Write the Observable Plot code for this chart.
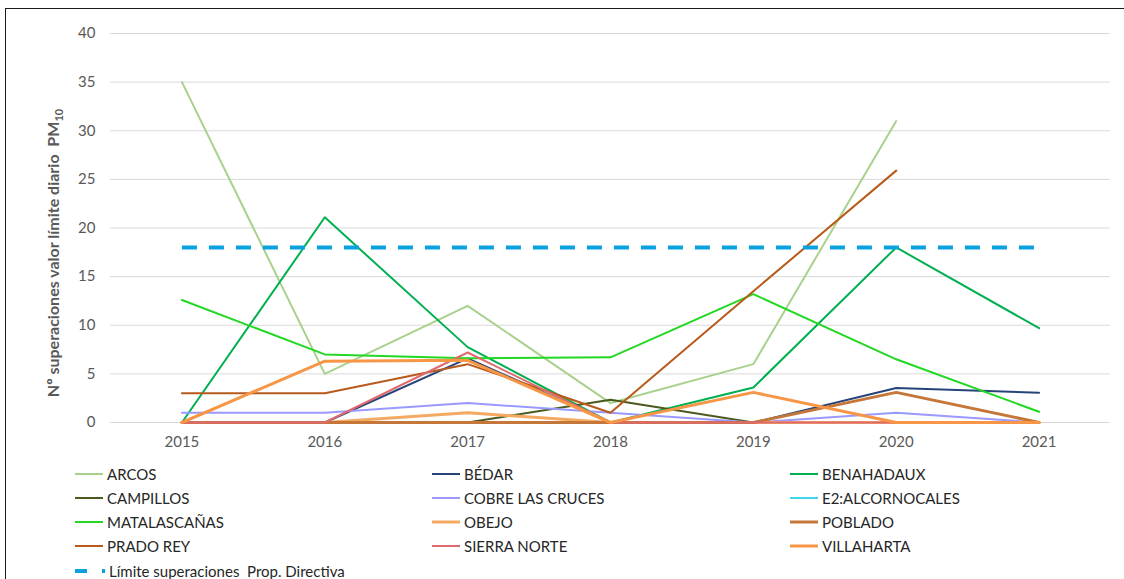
<!DOCTYPE html>
<html>
<head>
<meta charset="utf-8">
<script src="https://cdn.jsdelivr.net/npm/d3@7"></script>
<script src="https://cdn.jsdelivr.net/npm/@observablehq/plot@0.6"></script>
<style>
  html, body { margin: 0; padding: 0; background: #fff; width: 1124px; height: 579px; overflow: hidden; }
  #frame { position: absolute; left: 5px; top: 8px; width: 1200px; height: 700px; border: 1.5px solid #1a1a1a; box-sizing: border-box; }
  #chart { position: absolute; left: 0; top: 0; }
  #legend { position: absolute; left: 0; top: 0; font-family: Lato, "Open Sans", sans-serif; font-size: 15px; color: #262626; }
  .item { position: absolute; display: flex; align-items: center; height: 20px; white-space: pre; }
  .item svg { display: block; margin-right: 4px; }
</style>
</head>
<body>
<div id="frame"></div>
<div id="chart"></div>
<div id="legend"></div>
<script>
// ---- data ----
const years = [2015, 2016, 2017, 2018, 2019, 2020, 2021];
const yTicks = [0, 5, 10, 15, 20, 25, 30, 35, 40];
const seriesNames = ["ARCOS", "BÉDAR", "BENAHADAUX", "CAMPILLOS", "COBRE LAS CRUCES", "E2:ALCORNOCALES",
  "MATALASCAÑAS", "OBEJO", "POBLADO", "PRADO REY", "SIERRA NORTE", "VILLAHARTA"];
const arcos          = [35, 5, 12, 2, 6, 31, null];
const bedar          = [0, 0, 6.6, 0, 0, 3.55, 3.05];
const benahadaux     = [0, 21.1, 7.75, 0, 3.6, 18, 9.7];
const campillos      = [0, 0, 0, 2.35, 0, 0, 0];
const cobre          = [1, 1, 2, 1, 0, 1, 0];
const alcornocales   = [0, 0, 0, 0, 0, 0, 0];
const matalascanas   = [12.6, 7.0, 6.6, 6.7, 13.2, 6.5, 1.1];
const obejo          = [0, 0, 1, 0, 0, 0, 0];
const poblado        = [0, 0, 0, 0, 0, 3.1, 0];
const pradoRey       = [3, 3, 6, 1, 13.5, 25.9, null];
const sierraNorte    = [0, 0, 7.2, 0, 0, 0, 0];
const villaharta     = [0, 6.3, 6.4, 0, 3.1, 0, 0];
const limiteName = "Límite superaciones  Prop. Directiva";
const limite         = [18, 18, 18, 18, 18, 18, 18];

const seriesValues = [arcos, bedar, benahadaux, campillos, cobre, alcornocales,
  matalascanas, obejo, poblado, pradoRey, sierraNorte, villaharta];

// ---- styles ----
const colors = ["#a9d18e", "#264478", "#00b050", "#4a5a1e", "#9999ff", "#3fd8ea",
  "#22d822", "#f5aa62", "#c5773a", "#b85a1c", "#de6a6e", "#f79646"];
const widths = [2, 2, 2, 2, 2, 2, 2, 3, 3, 2, 2, 3];
const limitColor = "#0aa2de";

const table = seriesNames.flatMap((name, i) =>
  years.map((year, j) => ({ series: name, year, value: seriesValues[i][j] })));
const limitTable = years.map((year, j) => ({ year, value: limite[j] }));

const marks = [Plot.ruleY(yTicks, { stroke: "#d9d9d9", strokeWidth: 1 })];
seriesNames.forEach((name, i) => {
  marks.push(Plot.line(table.filter(d => d.series === name && d.value != null), {
    x: "year", y: "value", stroke: colors[i], strokeWidth: widths[i],
    strokeLinejoin: "round", strokeLinecap: "round"
  }));
});
marks.push(Plot.line(limitTable, {
  x: "year", y: "value", stroke: limitColor, strokeWidth: 4,
  strokeDasharray: "15,12", strokeLinecap: "butt"
}));

const chart = Plot.plot({
  width: 1124,
  height: 460,
  marginTop: 33,
  marginBottom: 38,
  marginLeft: 110,
  marginRight: 14,
  style: { fontFamily: "Lato, 'Open Sans', sans-serif", fontSize: "15px", color: "#595959", background: "transparent", overflow: "visible" },
  x: { domain: [2014.5, 2021.5], ticks: years, tickFormat: d => String(d), tickSize: 0, tickPadding: 14, label: null },
  y: { domain: [0, 40], ticks: yTicks, tickSize: 0, tickPadding: 15, label: null },
  marks
});
document.getElementById("chart").appendChild(chart);

// y-axis title with subscript
const svg = d3.select(chart);
const t = svg.append("text")
  .attr("transform", "translate(59,253) rotate(-90)")
  .attr("text-anchor", "middle")
  .attr("fill", "#595959")
  .attr("font-weight", "bold")
  .attr("font-size", "16px")
  .attr("font-family", "Lato, 'Open Sans', sans-serif")
  .style("white-space", "pre");
t.append("tspan").text("Nº superaciones valor límite diario  PM");
t.append("tspan").attr("font-size", "11px").attr("dy", "4").text("10");

// ---- legend ----
const legend = document.getElementById("legend");
const colX = [75, 432, 790];
const rowY = [474, 498, 522, 546, 571];
seriesNames.forEach((name, i) => {
  const div = document.createElement("div");
  div.className = "item";
  div.style.left = colX[i % 3] + "px";
  div.style.top = (rowY[Math.floor(i / 3)] - 10) + "px";
  div.innerHTML = `<svg width="28" height="8"><line x1="0" x2="28" y1="4" y2="4" stroke="${colors[i]}" stroke-width="${widths[i] === 3 ? 3 : 2}"/></svg>`;
  const span = document.createElement("span");
  span.textContent = name;
  div.appendChild(span);
  legend.appendChild(div);
});
{
  const div = document.createElement("div");
  div.className = "item";
  div.style.left = colX[0] + "px";
  div.style.top = (rowY[4] - 10) + "px";
  div.innerHTML = `<svg width="30" height="8"><line x1="0" x2="30" y1="4" y2="4" stroke="${limitColor}" stroke-width="4" stroke-dasharray="12,15"/></svg>`;
  const span = document.createElement("span");
  span.textContent = limiteName;
  div.appendChild(span);
  legend.appendChild(div);
}
</script>
</body>
</html>
